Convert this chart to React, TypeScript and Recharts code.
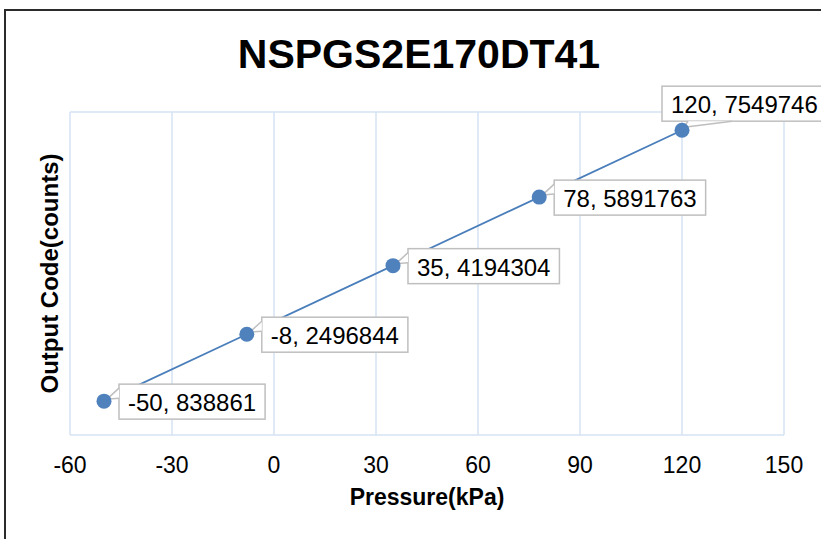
import React from 'react';
import {
  CartesianGrid,
  Scatter,
  ScatterChart,
  XAxis,
  YAxis,
} from 'recharts';

const pressures = [-50, -8, 35, 78, 120];
const outputCodes = [838861, 2496844, 4194304, 5891763, 7549746];
const xTicks = [-60, -30, 0, 30, 60, 90, 120, 150];
const yTicks = [0, 1000000, 2000000, 3000000, 4000000, 5000000, 6000000, 7000000, 8000000];

const chartTitle = 'NSPGS2E170DT41';
const xTitle = 'Pressure(kPa)';
const yTitle = 'Output Code(counts)';

const data = pressures.map((x, i) => ({ x, y: outputCodes[i] }));

const FONT = '"Liberation Sans", Arial, sans-serif';
const LABEL_SIZE = 24;

// rough Arial widths, good enough to size the callout boxes
function textWidth(s: string, size: number) {
  let w = 0;
  for (const ch of s) {
    if (ch === ',' || ch === ' ') w += 0.278;
    else if (ch === '-') w += 0.333;
    else w += 0.556;
  }
  return w * size;
}

function PointWithCallout(props: any) {
  const { cx, cy, payload } = props;
  if (cx == null || cy == null) return null;
  const text = `${payload.x}, ${payload.y}`;
  const w = textWidth(text, LABEL_SIZE) + 18;
  const h = 35;
  const isLast = payload.x === pressures[pressures.length - 1];

  let bx: number;
  let by: number;
  let wedge: string;
  if (isLast) {
    bx = cx - 20;
    by = cy - 9 - h;
    wedge = `M${bx + 26},${by + h} L${cx + 2},${cy - 3} L${bx + 70},${by + h}`;
  } else {
    bx = cx + 15;
    by = cy - 17;
    wedge = `M${bx},${by + 4} L${cx + 3},${cy - 2} L${bx},${by + 14}`;
  }

  return (
    <g>
      <rect x={bx} y={by} width={w} height={h} fill="#fff" stroke="#bfbfbf" strokeWidth={1.5} />
      <path d={wedge} fill="#fff" stroke="#bfbfbf" strokeWidth={1.5} />
      <text
        x={bx + 9}
        y={by + 27}
        fontFamily={FONT}
        fontSize={LABEL_SIZE}
        fill="#000"
      >
        {text}
      </text>
      <circle cx={cx} cy={cy} r={7.5} fill="#4f81bd" />
    </g>
  );
}

export default function App() {
  return (
    <div style={{ position: 'absolute', left: 0, top: 0, width: 821, height: 539, overflow: 'hidden', background: '#fff' }}>
      <div
        style={{
          position: 'absolute',
          left: 4,
          top: 9,
          width: 900,
          height: 700,
          border: '2px solid #2b2b2b',
          boxSizing: 'border-box',
        }}
      />
      <svg width={821} height={539} style={{ position: 'absolute', left: 0, top: 0 }}>
        <text
          x={419}
          y={68}
          textAnchor="middle"
          fontFamily={FONT}
          fontWeight="bold"
          fontSize={41}
          fill="#000"
        >
          {chartTitle}
        </text>
      </svg>
      <div style={{ position: 'absolute', left: 0, top: 0 }}>
        <ScatterChart width={821} height={539} margin={{ top: 112, right: 37, left: 10, bottom: 30 }}>
          <CartesianGrid stroke="#d6e2f3" strokeWidth={1.5} />
          <XAxis
            type="number"
            dataKey="x"
            domain={[-60, 150]}
            ticks={xTicks}
            axisLine={false}
            tickLine={false}
            tickMargin={16}
            height={74}
            tick={{ fill: '#000', fontSize: 23, fontFamily: FONT }}
            label={{
              content: ({ viewBox }: any) => (
                <text
                  x={viewBox.x + viewBox.width / 2}
                  y={505}
                  textAnchor="middle"
                  fontFamily={FONT}
                  fontWeight="bold"
                  fontSize={23}
                  fill="#000"
                >
                  {xTitle}
                </text>
              ),
            }}
          />
          <YAxis
            type="number"
            dataKey="y"
            domain={[0, 8000000]}
            ticks={yTicks}
            axisLine={false}
            tickLine={false}
            tick={false}
            width={60}
            label={{
              content: ({ viewBox }: any) => {
                const x = viewBox.x + 48;
                const y = viewBox.y + viewBox.height / 2;
                return (
                  <text
                    x={x}
                    y={y}
                    transform={`rotate(-90 ${x} ${y})`}
                    textAnchor="middle"
                    fontFamily={FONT}
                    fontWeight="bold"
                    fontSize={24}
                    fill="#000"
                  >
                    {yTitle}
                  </text>
                );
              },
            }}
          />
          <Scatter
            data={data}
            line={{ stroke: '#4a7ebb', strokeWidth: 1.75 }}
            shape={PointWithCallout}
            isAnimationActive={false}
          />
        </ScatterChart>
      </div>
    </div>
  );
}
